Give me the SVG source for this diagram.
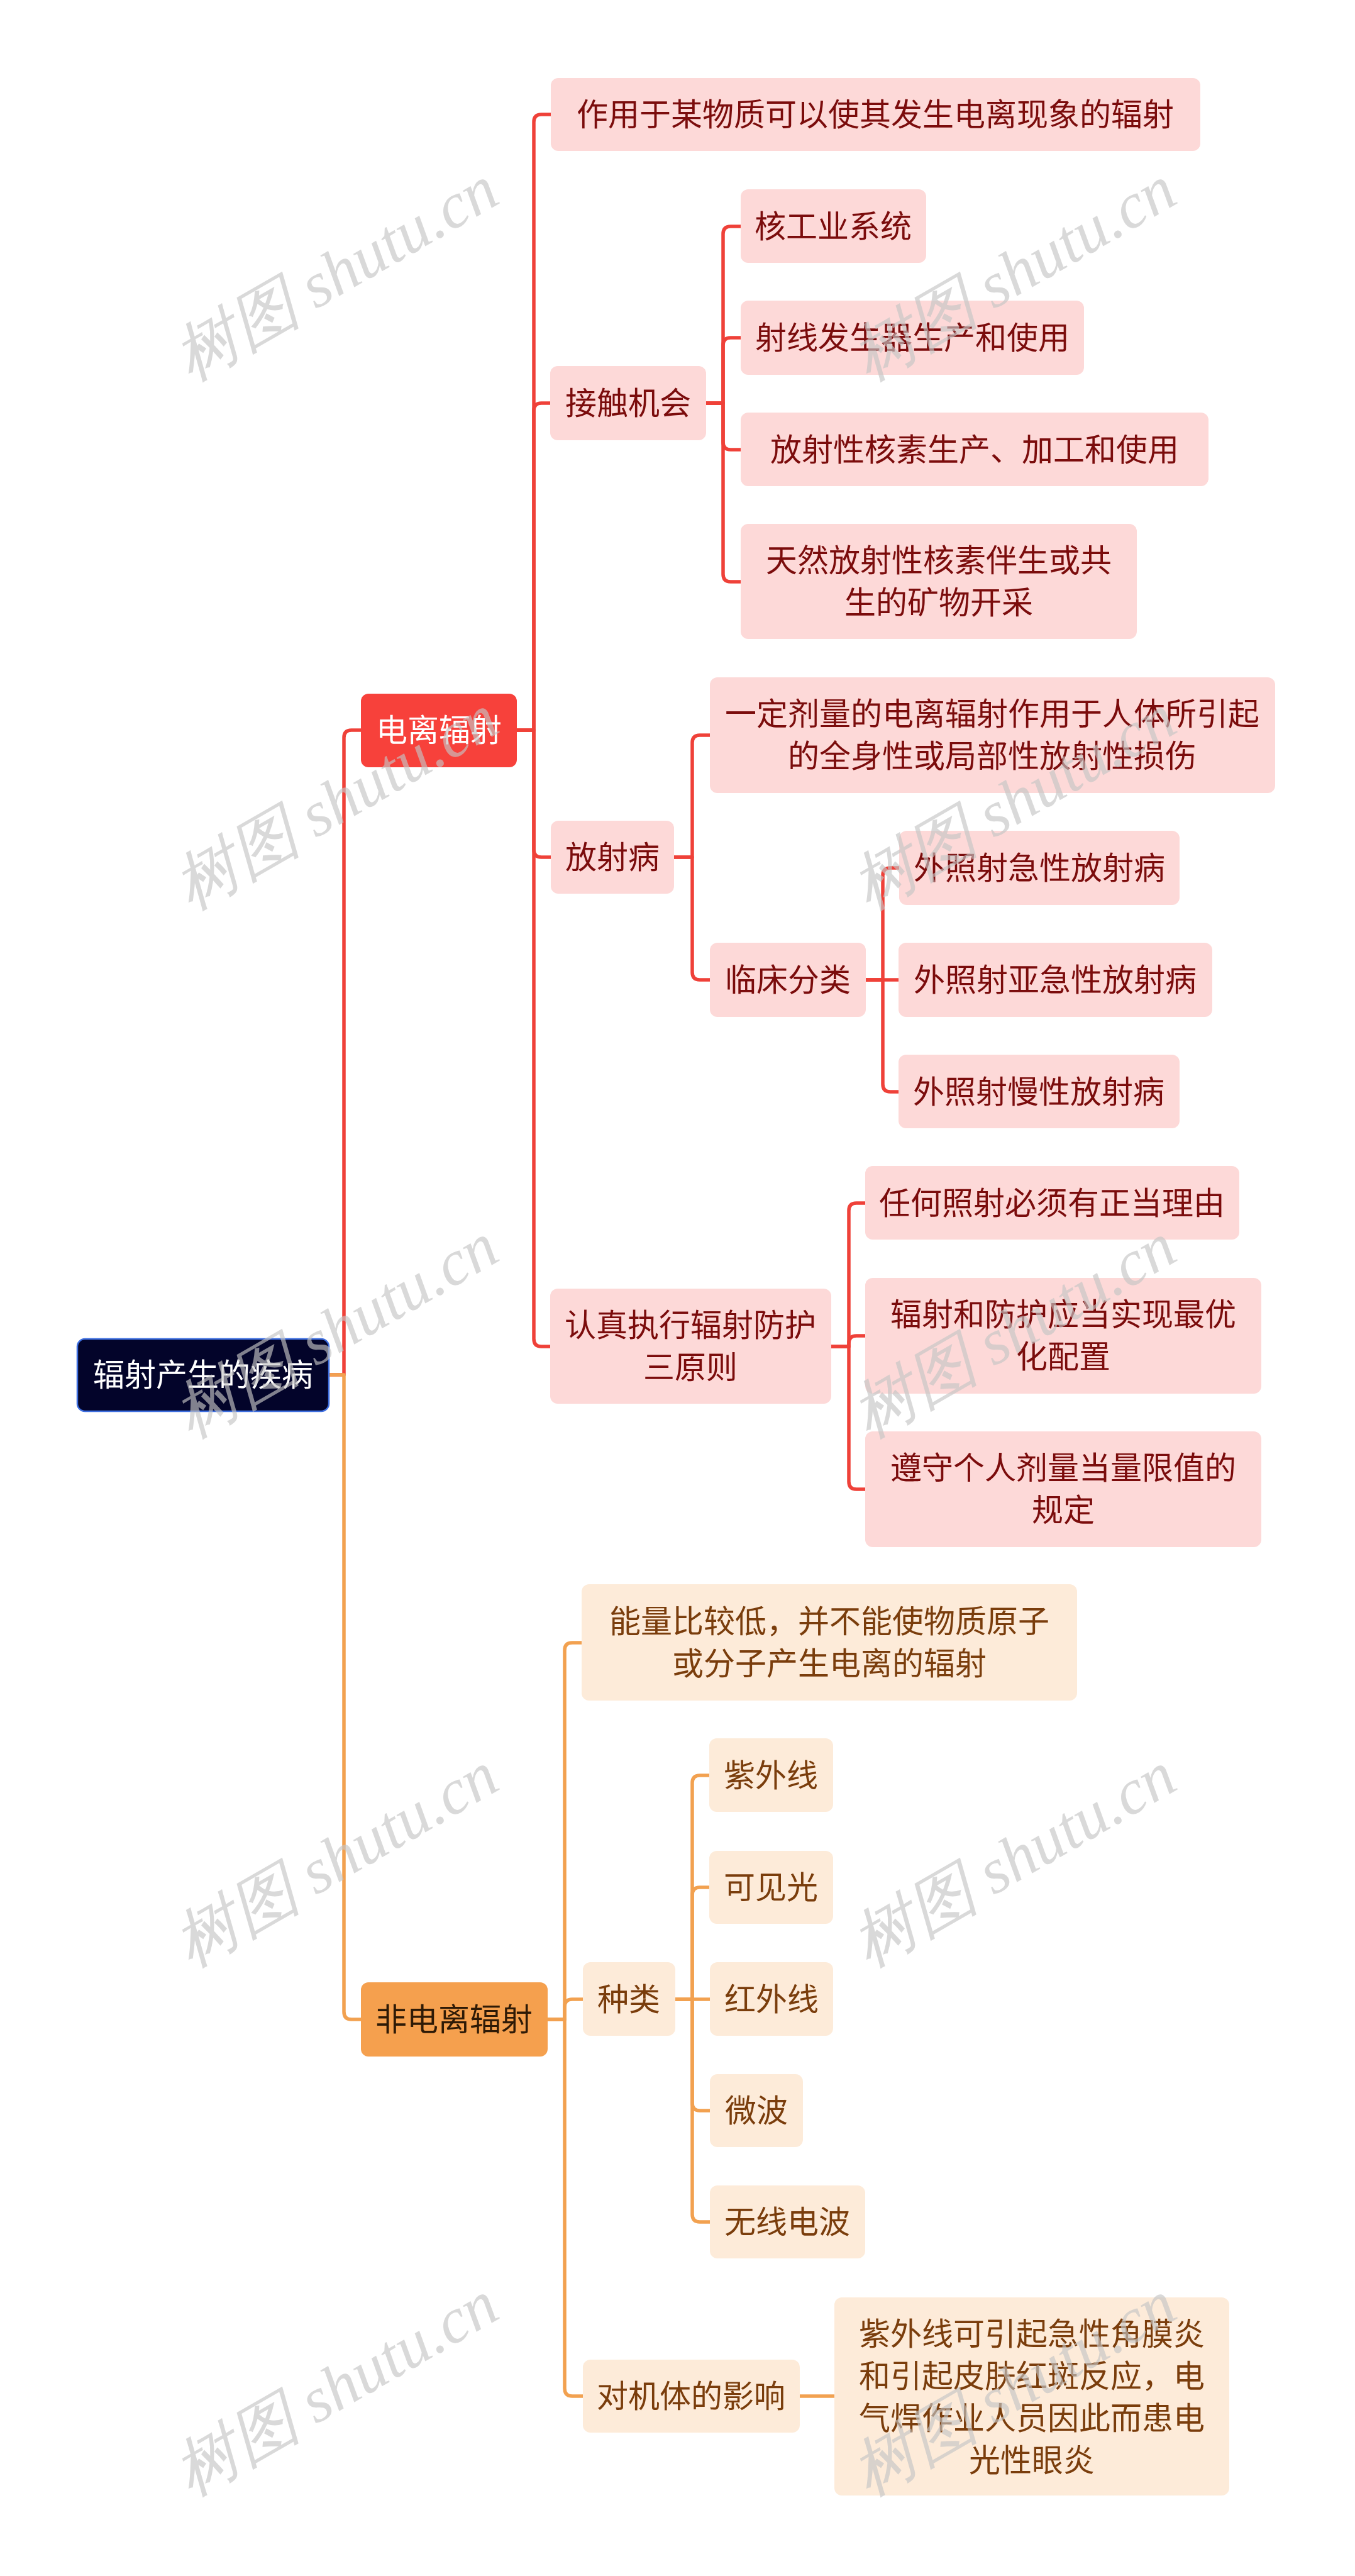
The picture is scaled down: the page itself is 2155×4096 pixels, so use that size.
<svg xmlns="http://www.w3.org/2000/svg" width="2155" height="4096" viewBox="0 0 2155 4096">
<style>
text{font-family:"Noto Sans CJK SC","Noto Sans",sans-serif;font-size:50px;text-anchor:middle}
.r{fill:#fdd9d8}
.o{fill:#fdebd9}
.tr{fill:#7b0c0c}
.to{fill:#7a3d0c}
.lr{fill:none;stroke:#ef4139;stroke-width:5.5;stroke-linejoin:round}
.lo{fill:none;stroke:#f2a150;stroke-width:5.5;stroke-linejoin:round}
.wm{font-family:"Liberation Serif","DejaVu Serif",serif;font-style:italic;font-size:102px;fill:#c4c4c4;fill-opacity:0.65}
</style>
<rect width="2155" height="4096" fill="#ffffff"/>
<g id="connectors">
<path class="lr" d="M523,2186 H547 V1173 Q547,1161 559,1161 H575"/>
<path class="lo" d="M523,2186 H547 V3199 Q547,3211 559,3211 H575"/>
<path class="lr" d="M822,1161 H849 V194 Q849,182 861,182 H877"/>
<path class="lr" d="M822,1161 H849 V653 Q849,641 861,641 H876"/>
<path class="lr" d="M822,1161 H849 V1351 Q849,1363 861,1363 H877"/>
<path class="lr" d="M822,1161 H849 V2129 Q849,2141 861,2141 H876"/>
<path class="lr" d="M1123,641 H1150 V372 Q1150,360 1162,360 H1179"/>
<path class="lr" d="M1123,641 H1150 V549 Q1150,537 1162,537 H1179"/>
<path class="lr" d="M1123,641 H1150 V703 Q1150,715 1162,715 H1179"/>
<path class="lr" d="M1123,641 H1150 V913 Q1150,925 1162,925 H1179"/>
<path class="lr" d="M1072,1363 H1101 V1181 Q1101,1169 1113,1169 H1130"/>
<path class="lr" d="M1072,1363 H1101 V1546 Q1101,1558 1113,1558 H1130"/>
<path class="lr" d="M1377,1558 H1404 V1392 Q1404,1380 1416,1380 H1431"/>
<path class="lr" d="M1377,1558 H1430"/>
<path class="lr" d="M1377,1558 H1404 V1724 Q1404,1736 1416,1736 H1430"/>
<path class="lr" d="M1322,2141 H1350 V1925 Q1350,1913 1362,1913 H1377"/>
<path class="lr" d="M1322,2141 H1350 V2136 Q1350,2124 1362,2124 H1377"/>
<path class="lr" d="M1322,2141 H1350 V2356 Q1350,2368 1362,2368 H1377"/>
<path class="lo" d="M871,3211 H898 V2624 Q898,2612 910,2612 H926"/>
<path class="lo" d="M871,3211 H898 V3191 Q898,3179 910,3179 H928"/>
<path class="lo" d="M871,3211 H898 V3798 Q898,3810 910,3810 H928"/>
<path class="lo" d="M1074,3179 H1101 V2835 Q1101,2823 1113,2823 H1129"/>
<path class="lo" d="M1074,3179 H1101 V3013 Q1101,3001 1113,3001 H1129"/>
<path class="lo" d="M1074,3179 H1130"/>
<path class="lo" d="M1074,3179 H1101 V3344 Q1101,3356 1113,3356 H1130"/>
<path class="lo" d="M1074,3179 H1101 V3521 Q1101,3533 1113,3533 H1130"/>
<path class="lo" d="M1272,3810 H1328"/>
</g>
<g id="root"><rect x="123" y="2129" width="400" height="115" rx="12" fill="#03042a" stroke="#3d6ee0" stroke-width="2.5"/><text x="323" y="2204" fill="#ffffff">辐射产生的疾病</text></g>
<g id="n-ionizing"><rect x="574" y="1103" width="248" height="117" rx="12" fill="#f7413b"/><text x="698" y="1179" fill="#ffffff">电离辐射</text></g>
<g id="n-nonionizing"><rect x="574" y="3152" width="297" height="118" rx="12" fill="#f5a04e"/><text x="722" y="3229" fill="#2e1a06">非电离辐射</text></g>
<g id="n-def"><rect class="r" x="876" y="124" width="1033" height="116" rx="12"/><text class="tr" x="1392" y="200">作用于某物质可以使其发生电离现象的辐射</text></g>
<g id="n-contact"><rect class="r" x="875" y="582" width="248" height="118" rx="12"/><text class="tr" x="999" y="659">接触机会</text></g>
<g id="n-c1"><rect class="r" x="1178" y="301" width="295" height="117" rx="12"/><text class="tr" x="1325" y="378">核工业系统</text></g>
<g id="n-c2"><rect class="r" x="1178" y="478" width="546" height="118" rx="12"/><text class="tr" x="1451" y="555">射线发生器生产和使用</text></g>
<g id="n-c3"><rect class="r" x="1178" y="656" width="744" height="117" rx="12"/><text class="tr" x="1550" y="733">放射性核素生产、加工和使用</text></g>
<g id="n-c4"><rect class="r" x="1178" y="833" width="630" height="183" rx="12"/><text class="tr" x="1493" y="909">天然放射性核素伴生或共</text><text class="tr" x="1493" y="976">生的矿物开采</text></g>
<g id="n-sick"><rect class="r" x="876" y="1305" width="196" height="116" rx="12"/><text class="tr" x="974" y="1381">放射病</text></g>
<g id="n-s1"><rect class="r" x="1129" y="1077" width="899" height="184" rx="12"/><text class="tr" x="1578" y="1153">一定剂量的电离辐射作用于人体所引起</text><text class="tr" x="1578" y="1220">的全身性或局部性放射性损伤</text></g>
<g id="n-s2"><rect class="r" x="1129" y="1499" width="248" height="118" rx="12"/><text class="tr" x="1253" y="1576">临床分类</text></g>
<g id="n-s2a"><rect class="r" x="1430" y="1321" width="446" height="118" rx="12"/><text class="tr" x="1653" y="1398">外照射急性放射病</text></g>
<g id="n-s2b"><rect class="r" x="1429" y="1499" width="499" height="118" rx="12"/><text class="tr" x="1678" y="1576">外照射亚急性放射病</text></g>
<g id="n-s2c"><rect class="r" x="1429" y="1677" width="447" height="117" rx="12"/><text class="tr" x="1652" y="1754">外照射慢性放射病</text></g>
<g id="n-rule"><rect class="r" x="875" y="2049" width="447" height="183" rx="12"/><text class="tr" x="1098" y="2125">认真执行辐射防护</text><text class="tr" x="1098" y="2192">三原则</text></g>
<g id="n-r1"><rect class="r" x="1376" y="1854" width="595" height="117" rx="12"/><text class="tr" x="1673" y="1931">任何照射必须有正当理由</text></g>
<g id="n-r2"><rect class="r" x="1376" y="2032" width="630" height="184" rx="12"/><text class="tr" x="1691" y="2108">辐射和防护应当实现最优</text><text class="tr" x="1691" y="2175">化配置</text></g>
<g id="n-r3"><rect class="r" x="1376" y="2276" width="630" height="184" rx="12"/><text class="tr" x="1691" y="2352">遵守个人剂量当量限值的</text><text class="tr" x="1691" y="2419">规定</text></g>
<g id="n-ndef"><rect class="o" x="925" y="2519" width="788" height="185" rx="12"/><text class="to" x="1319" y="2596">能量比较低，并不能使物质原子</text><text class="to" x="1319" y="2663">或分子产生电离的辐射</text></g>
<g id="n-kind"><rect class="o" x="927" y="3120" width="147" height="117" rx="12"/><text class="to" x="1000" y="3197">种类</text></g>
<g id="n-k1"><rect class="o" x="1128" y="2764" width="197" height="117" rx="12"/><text class="to" x="1226" y="2841">紫外线</text></g>
<g id="n-k2"><rect class="o" x="1128" y="2943" width="197" height="116" rx="12"/><text class="to" x="1226" y="3019">可见光</text></g>
<g id="n-k3"><rect class="o" x="1129" y="3120" width="196" height="117" rx="12"/><text class="to" x="1227" y="3197">红外线</text></g>
<g id="n-k4"><rect class="o" x="1129" y="3298" width="148" height="116" rx="12"/><text class="to" x="1203" y="3374">微波</text></g>
<g id="n-k5"><rect class="o" x="1129" y="3475" width="247" height="116" rx="12"/><text class="to" x="1252" y="3551">无线电波</text></g>
<g id="n-effect"><rect class="o" x="927" y="3752" width="345" height="116" rx="12"/><text class="to" x="1099" y="3828">对机体的影响</text></g>
<g id="n-e1"><rect class="o" x="1327" y="3653" width="628" height="315" rx="12"/><text class="to" x="1641" y="3729">紫外线可引起急性角膜炎</text><text class="to" x="1641" y="3796">和引起皮肤红斑反应，电</text><text class="to" x="1641" y="3863">气焊作业人员因此而患电</text><text class="to" x="1641" y="3930">光性眼炎</text></g>
<g id="watermarks">
<text class="wm" transform="translate(551,464) rotate(-30)">树图 shutu.cn</text>
<text class="wm" transform="translate(551,1305) rotate(-30)">树图 shutu.cn</text>
<text class="wm" transform="translate(551,2145) rotate(-30)">树图 shutu.cn</text>
<text class="wm" transform="translate(551,2986) rotate(-30)">树图 shutu.cn</text>
<text class="wm" transform="translate(551,3827) rotate(-30)">树图 shutu.cn</text>
<text class="wm" transform="translate(1629,464) rotate(-30)">树图 shutu.cn</text>
<text class="wm" transform="translate(1629,1305) rotate(-30)">树图 shutu.cn</text>
<text class="wm" transform="translate(1629,2145) rotate(-30)">树图 shutu.cn</text>
<text class="wm" transform="translate(1629,2986) rotate(-30)">树图 shutu.cn</text>
<text class="wm" transform="translate(1629,3827) rotate(-30)">树图 shutu.cn</text>
</g>
</svg>
